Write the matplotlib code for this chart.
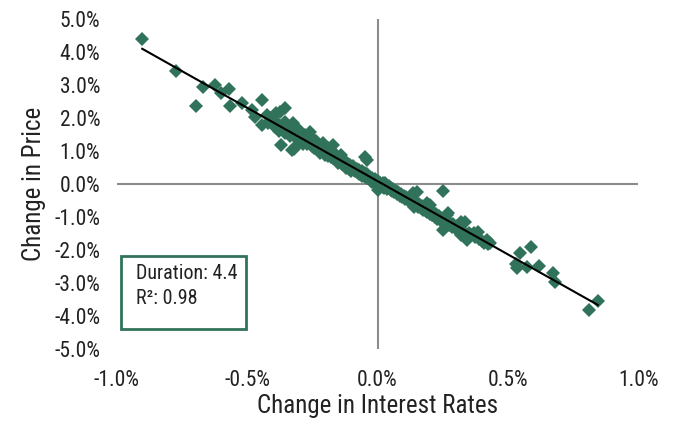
import numpy as np
import matplotlib
matplotlib.use("Agg")
import matplotlib.pyplot as plt
from matplotlib.patches import Rectangle
from matplotlib import font_manager

# prefer a condensed sans face when one is present
installed = {f.name for f in font_manager.fontManager.ttflist}
narrow_faces = ['Liberation Sans Narrow', 'Arial Narrow', 'Roboto Condensed', 'DejaVu Sans Condensed']
face = next((n for n in narrow_faces if n in installed), None)
if face is None:
    face, tick_size, label_size, box_size = 'Liberation Sans', 13, 15, 12.5
else:
    tick_size, label_size, box_size = 15.5, 18, 14.5
plt.rcParams['font.family'] = [face, 'DejaVu Sans']

# Daily change in interest rates (%) and matching change in bond price (%)
rate_left_tail = [-0.903, -0.775, -0.695, -0.67, -0.625, -0.60, -0.57, -0.568, -0.52,
                  -0.48, -0.47, -0.445, -0.445, -0.426, -0.42, -0.41]
price_left_tail = [4.38, 3.44, 2.36, 2.93, 2.99, 2.75, 2.87, 2.36, 2.45,
                   2.24, 2.02, 2.54, 1.78, 2.08, 1.85, 2.00]

rate_core = [
    -0.40, -0.395, -0.39, -0.385, -0.38, -0.376, -0.37, -0.37, -0.365,
    -0.357, -0.357, -0.355, -0.35, -0.345, -0.34, -0.335, -0.33, -0.33, -0.326, -0.32, -0.32,
    -0.315, -0.31, -0.305, -0.30, -0.30, -0.295, -0.29, -0.285, -0.28, -0.28, -0.275, -0.27, -0.265,
    -0.26, -0.255, -0.25, -0.25, -0.245, -0.24, -0.235, -0.23, -0.225, -0.22, -0.22, -0.215, -0.21, -0.205, -0.20,
    -0.20, -0.195, -0.19, -0.19, -0.185, -0.18, -0.18, -0.175, -0.17, -0.17,
    -0.165, -0.16, -0.16, -0.155, -0.15, -0.15, -0.145, -0.14, -0.14, -0.135,
    -0.13, -0.125, -0.12, -0.12, -0.115, -0.11, -0.11, -0.105, -0.10, -0.10,
    -0.095, -0.09, -0.09, -0.085, -0.08, -0.08, -0.075, -0.07, -0.07, -0.065,
    -0.06, -0.06, -0.055, -0.05, -0.05, -0.05, -0.045, -0.042, -0.04, -0.04,
    -0.035, -0.03, -0.03, -0.025, -0.02, -0.02, -0.015, -0.01, -0.01, -0.005,
    0.0, 0.0, 0.0, 0.005, 0.01, 0.01, 0.015, 0.02, 0.02, 0.025,
    0.03, 0.03, 0.035, 0.04, 0.045, 0.05, 0.05, 0.055, 0.06, 0.065,
    0.07, 0.075, 0.08, 0.085, 0.09, 0.095, 0.10, 0.105, 0.11, 0.115,
    0.12, 0.125, 0.13, 0.135, 0.135, 0.14, 0.145, 0.15, 0.15, 0.155,
    0.16, 0.165, 0.17, 0.175, 0.18, 0.185, 0.19, 0.19, 0.195, 0.20,
    0.20, 0.205, 0.21, 0.215, 0.22, 0.225, 0.23, 0.235, 0.24, 0.245,
    0.25, 0.25, 0.25, 0.255, 0.26, 0.265, 0.27, 0.27, 0.275, 0.28,
    0.285, 0.29, 0.30, 0.305, 0.31, 0.32, 0.32, 0.325, 0.334, 0.34,
    0.345, 0.35, 0.36, 0.37, 0.375, 0.385, 0.39, 0.40, 0.41, 0.42,
    0.42, 0.425, 0.43,
]
price_core = [
    1.95, 1.72, 2.14, 1.85, 1.60, 2.18, 1.18, 1.75, 1.66,
    2.29, 1.87, 1.55, 1.80, 1.62, 1.70, 1.45, 1.03, 1.62, 1.84, 1.50, 1.06,
    1.58, 1.35, 1.66, 1.43, 1.25, 1.55, 1.40, 1.22, 1.50, 1.30, 1.42, 1.20, 1.35,
    1.57, 1.28, 1.15, 1.38, 1.08, 1.22, 1.30, 1.05, 1.18, 0.95, 1.12, 1.02, 1.25, 0.98, 1.08,
    0.88, 1.00, 0.85, 1.10, 0.95, 0.82, 1.02, 0.90, 1.18, 0.78,
    0.92, 0.75, 0.85, 0.70, 0.82, 0.65, 0.78, 0.70, 0.88, 0.62,
    0.72, 0.58, 0.65, 0.50, 0.62, 0.55, 0.45, 0.58, 0.50, 0.40,
    0.55, 0.42, 0.48, 0.38, 0.45, 0.35, 0.40, 0.30, 0.42, 0.35,
    0.25, 0.38, 0.30, 0.82, 0.22, 0.32, 0.25, 0.72, 0.18, 0.30,
    0.25, 0.15, 0.22, 0.10, 0.18, 0.05, 0.12, 0.02, 0.15, 0.08,
    0.00, -0.18, 0.10, -0.05, 0.02, -0.10, -0.02, -0.08, 0.03, -0.12,
    0.03, -0.05, -0.15, -0.10, -0.05, -0.18, -0.12, -0.22, -0.15, -0.25,
    -0.20, -0.30, -0.25, -0.35, -0.30, -0.40, -0.35, -0.45, -0.40, -0.48,
    -0.42, -0.55, -0.50, -0.27, -0.60, -0.69, -0.58, -0.24, -0.62, -0.70,
    -0.60, -0.72, -0.68, -0.78, -0.72, -0.82, -0.57, -0.85, -0.78, -0.63,
    -0.90, -0.85, -0.95, -0.88, -1.00, -0.92, -1.05, -0.98, -1.10, -1.02,
    -0.21, -1.39, -1.12, -1.05, -1.18, -0.94, -0.87, -1.15, -1.25, -1.20,
    -1.30, -1.22, -1.35, -1.28, -1.40, -1.15, -1.54, -1.38, -1.15, -1.60,
    -1.69, -1.48, -1.55, -1.48, -1.62, -1.45, -1.68, -1.72, -1.78, -1.69,
    -1.75, -1.82, -1.80,
]

rate_right_tail = [0.53, 0.535, 0.545, 0.575, 0.59, 0.62, 0.675, 0.68, 0.81, 0.845]
price_right_tail = [-2.42, -2.54, -2.08, -2.53, -1.90, -2.48, -2.69, -2.96, -3.81, -3.56]

x_ticks = [-1.0, -0.5, 0.0, 0.5, 1.0]
y_ticks = [-5.0, -4.0, -3.0, -2.0, -1.0, 0.0, 1.0, 2.0, 3.0, 4.0, 5.0]

duration_label = "Duration: 4.4"
r2_label = "R\u00b2: 0.98"

rates = np.array(rate_left_tail + rate_core + rate_right_tail)
prices = np.array(price_left_tail + price_core + price_right_tail)

green = "#31735a"
gray = "#8c8c8c"
ink = "#222222"

fig = plt.figure(figsize=(6.76, 4.23), dpi=100)
ax = fig.add_axes([0.173, 0.175, 0.771, 0.78])

ax.axhline(0, color=gray, lw=1.5, zorder=1)
ax.axvline(0, color=gray, lw=1.5, zorder=1)

ax.plot(rates, prices, linestyle="none", marker="D", ms=6.8,
        color=green, markeredgewidth=0, zorder=2)

# least-squares trend line across the observed range
slope, intercept = np.polyfit(rates, prices, 1)
xfit = np.array([rates.min(), rates.max()])
ax.plot(xfit, slope * xfit + intercept, color="black", lw=1.5, zorder=3)

ax.set_xlim(-1.0, 1.0)
ax.set_ylim(-5.0, 5.0)
ax.set_xticks(x_ticks)
ax.set_yticks(y_ticks)
ax.set_xticklabels([f"{v:.1f}%" for v in x_ticks])
ax.set_yticklabels([f"{v:.1f}%" for v in y_ticks])
ax.tick_params(length=0, labelsize=tick_size, colors=ink)
ax.tick_params(axis="x", pad=15)
ax.tick_params(axis="y", pad=12)
for s in ax.spines.values():
    s.set_visible(False)

ax.set_xlabel("Change in Interest Rates", fontsize=label_size, color=ink, labelpad=2)
ax.set_ylabel("Change in Price", fontsize=label_size, color=ink, labelpad=6)

box = Rectangle((-0.983, -4.38), 0.48, 2.2, fill=True, facecolor="white",
                edgecolor=green, lw=2.0, zorder=4)
ax.add_patch(box)
ax.text(-0.925, -2.70, duration_label, fontsize=box_size, color=ink,
        va="center", ha="left", zorder=5)
ax.text(-0.925, -3.47, r2_label, fontsize=box_size, color=ink,
        va="center", ha="left", zorder=5)

fig.savefig("out.png", dpi=100)
